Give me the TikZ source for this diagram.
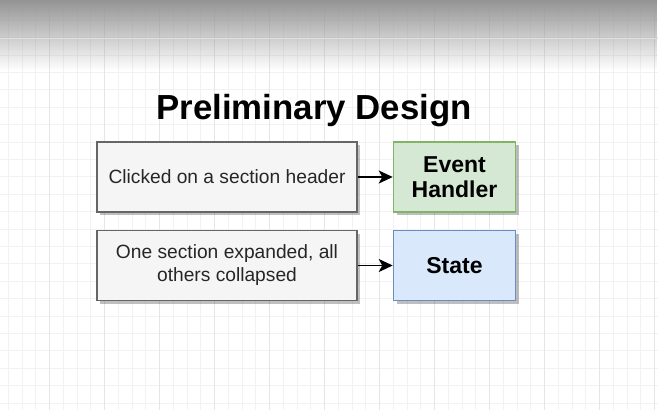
\documentclass[tikz,border=0pt]{standalone}
\usepackage{fontspec}
\setmainfont{Liberation Sans}
\usetikzlibrary{arrows.meta,positioning,shadows,fadings}
\definecolor{GridLine}{HTML}{F2F2F2}
\definecolor{GridMajor}{HTML}{E6E6E6}
\definecolor{CauseFill}{HTML}{F5F5F5}
\definecolor{CauseLine}{HTML}{666666}
\definecolor{HandlerFill}{HTML}{D5E8D4}
\definecolor{HandlerLine}{HTML}{82B366}
\definecolor{StateFill}{HTML}{DAE8FC}
\definecolor{StateLine}{HTML}{6C8EBF}
\tikzset{
  link/.style={-{Stealth[length=14pt,width=13pt,inset=3.5pt]}, line width=1.7pt, draw=black},
  box/.style={draw, line width=1.5pt, minimum height=70pt, align=center, inner sep=2pt,
              drop shadow={shadow xshift=3pt, shadow yshift=-3pt, fill=black, opacity=0.25}},
  cause/.style={box, fill=CauseFill, draw=CauseLine, minimum width=260pt,
                font=\fontsize{19.2}{23}\selectfont, text=black!85},
  handler/.style={box, fill=HandlerFill, draw=HandlerLine, minimum width=122pt,
                  font=\bfseries\fontsize{23}{25}\selectfont},
  store/.style={box, fill=StateFill, draw=StateLine, minimum width=122pt,
                font=\bfseries\fontsize{23}{25}\selectfont},
}

\begin{document}
\begin{tikzpicture}[x=1pt,y=-1pt,node distance=17pt]
    % canvas and grid
    \useasboundingbox (0,0) rectangle (658,410);
    \fill[white] (0,0) rectangle (658,410);
    \foreach \gx in {8,21.75,...,658} \draw[GridLine,line width=0.5pt] (\gx,0) -- (\gx,410);
    \foreach \gy in {2.6,20,...,410} \draw[GridLine,line width=0.6pt] (0,\gy) -- (658,\gy);
    \foreach \gx in {49.3,104.3,...,658} \draw[GridMajor,line width=0.7pt] (\gx,0) -- (\gx,410);
    \fill[black!42, path fading=south] (0,0) rectangle (658,70);
    \draw[black!12,line width=1pt] (0,38) -- (658,38);
    % diagram
    \node[font=\bfseries\fontsize{34.8}{40}\selectfont] (title) at (314,111) {Preliminary Design};
    \node[cause] (click) at (227,177) {Clicked on a section header};
    \node[handler,right=35pt of click] (handler) {Event\\Handler};
    \node[cause,below=of click] (expand) {One section expanded, all\\others collapsed};
    \node[store,right=35pt of expand] (state) {State};
    \draw[link] (click) -- (handler);
    \draw[link] (expand) -- (state);
  \end{tikzpicture}
\end{document}
